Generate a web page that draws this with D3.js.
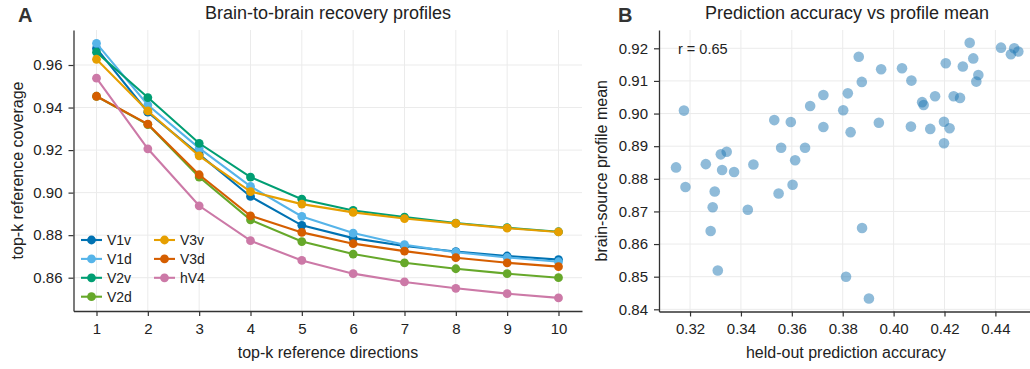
<!DOCTYPE html>
<html>
<head>
<meta charset="utf-8">
<script src="https://cdn.jsdelivr.net/npm/d3@7"></script>
<style>
  html, body { margin: 0; padding: 0; background: #fff; }
  svg { display: block; font-family: "Liberation Sans", Arial, Helvetica, sans-serif; }
</style>
</head>
<body>
<svg id="fig" width="1030" height="369"></svg>
<script>
// ---- Panel A: recovery profiles per visual area ----
const kValues = [1, 2, 3, 4, 5, 6, 7, 8, 9, 10];
const areaNames = ["V1v", "V1d", "V2v", "V2d", "V3v", "V3d", "hV4"];
const areaColors = ["#0072B2", "#56B4E9", "#009E73", "#66A82A", "#E69F00", "#D55E00", "#CC79A7"];

const coverageV1v = [0.9678, 0.9378, 0.9180, 0.8982, 0.8846, 0.8786, 0.8749, 0.8723, 0.8702, 0.8685];
const coverageV1d = [0.9702, 0.9412, 0.9209, 0.9029, 0.8888, 0.8810, 0.8755, 0.8720, 0.8695, 0.8675];
const coverageV2v = [0.9660, 0.9447, 0.9232, 0.9073, 0.8969, 0.8916, 0.8885, 0.8857, 0.8835, 0.8816];
const coverageV2d = [0.9453, 0.9320, 0.9073, 0.8872, 0.8770, 0.8711, 0.8670, 0.8642, 0.8619, 0.8600];
const coverageV3v = [0.9627, 0.9384, 0.9173, 0.9005, 0.8946, 0.8907, 0.8878, 0.8855, 0.8833, 0.8815];
const coverageV3d = [0.9453, 0.9322, 0.9084, 0.8891, 0.8813, 0.8760, 0.8725, 0.8694, 0.8670, 0.8652];
const coverageHV4 = [0.9538, 0.9206, 0.8938, 0.8774, 0.8681, 0.8619, 0.8580, 0.8550, 0.8525, 0.8505];
const coverageSeries = [coverageV1v, coverageV1d, coverageV2v, coverageV2d, coverageV3v, coverageV3d, coverageHV4];
const coverageTicks = [0.86, 0.88, 0.90, 0.92, 0.94, 0.96];

// ---- Panel B: held-out accuracy vs profile mean, one point per source ----
const heldOutAccuracy = [
  0.3176, 0.3145, 0.3262, 0.3321, 0.3344, 0.3326, 0.3373, 0.3449, 0.3531, 0.3596,
  0.3558, 0.3652, 0.3613, 0.3672, 0.3724, 0.3724, 0.3802, 0.3820, 0.3831, 0.3863,
  0.3875, 0.3951, 0.3942, 0.4033, 0.4070, 0.4068, 0.4112, 0.4118, 0.4144, 0.4163,
  0.4198, 0.4198, 0.4220, 0.4205, 0.4236, 0.4261, 0.4272, 0.4299, 0.4313, 0.4333,
  0.4325, 0.4422, 0.4474, 0.4461, 0.4490, 0.3182, 0.3297, 0.3289, 0.3427, 0.3281,
  0.3309, 0.3548, 0.3603, 0.3876, 0.3813, 0.3903
];
const profileMean = [
  0.9009, 0.8835, 0.8845, 0.8875, 0.8883, 0.8827, 0.8821, 0.8844, 0.8980, 0.8974,
  0.8895, 0.8895, 0.8857, 0.9023, 0.9057, 0.8959, 0.9010, 0.9062, 0.8943, 0.9174,
  0.9097, 0.9136, 0.8972, 0.9139, 0.9101, 0.8960, 0.9035, 0.9026, 0.8953, 0.9053,
  0.8975, 0.8909, 0.8955, 0.9154, 0.9053, 0.9048, 0.9144, 0.9217, 0.9169, 0.9118,
  0.9098, 0.9202, 0.9200, 0.9182, 0.9190, 0.8775, 0.8761, 0.8713, 0.8705, 0.8640,
  0.8519, 0.8755, 0.8782, 0.8649, 0.8500, 0.8433
];
const accuracyTicks = [0.32, 0.34, 0.36, 0.38, 0.40, 0.42, 0.44];
const meanTicks = [0.84, 0.85, 0.86, 0.87, 0.88, 0.89, 0.90, 0.91, 0.92];
const correlationLabel = "r = 0.65";

const svg = d3.select("#fig");
const gridColor = "#ebebeb";
const spineColor = "#333";

function styleAxis(g) {
  g.attr("font-family", null).attr("font-size", null);
  g.select(".domain").attr("stroke", spineColor).attr("stroke-width", 1.3);
  g.selectAll(".tick line").attr("stroke", spineColor).attr("stroke-width", 1.2);
  g.selectAll(".tick text").attr("font-size", 15).attr("fill", "#222");
}

// ================= Panel A =================
const A = { left: 73.5, right: 582, top: 30, bottom: 311 };
const xA = d3.scaleLinear().domain([0.552, 10.458]).range([A.left, A.right]);
const yA = d3.scaleLinear().domain([0.84434, 0.97646]).range([A.bottom, A.top]);

const gA = svg.append("g");
gA.append("g").selectAll("line").data(kValues).join("line")
  .attr("x1", d => xA(d)).attr("x2", d => xA(d))
  .attr("y1", A.top).attr("y2", A.bottom)
  .attr("stroke", gridColor).attr("stroke-width", 1);
gA.append("g").selectAll("line").data(coverageTicks).join("line")
  .attr("x1", A.left).attr("x2", A.right)
  .attr("y1", d => yA(d)).attr("y2", d => yA(d))
  .attr("stroke", gridColor).attr("stroke-width", 1);

gA.append("g").attr("transform", `translate(0,${A.bottom})`)
  .call(d3.axisBottom(xA).tickValues(kValues).tickFormat(d3.format("d")).tickSize(5).tickPadding(7).tickSizeOuter(0))
  .call(styleAxis);
gA.append("g").attr("transform", `translate(${A.left},0)`)
  .call(d3.axisLeft(yA).tickValues(coverageTicks).tickFormat(d3.format(".2f")).tickSize(5).tickPadding(6).tickSizeOuter(0))
  .call(styleAxis);

const lineA = d3.line().x((d, i) => xA(kValues[i])).y(d => yA(d));
coverageSeries.forEach((vals, s) => {
  const g = gA.append("g");
  g.append("path").datum(vals).attr("d", lineA)
    .attr("fill", "none").attr("stroke", areaColors[s]).attr("stroke-width", 2.1);
  g.selectAll("circle").data(vals).join("circle")
    .attr("cx", (d, i) => xA(kValues[i])).attr("cy", d => yA(d)).attr("r", 4.4)
    .attr("fill", areaColors[s]);
});

// legend, two columns
const legend = gA.append("g");
areaNames.forEach((name, i) => {
  const col = i < 4 ? 0 : 1;
  const row = i < 4 ? i : i - 4;
  const x0 = col === 0 ? 81 : 154;
  const y0 = 240 + row * 18.9;
  legend.append("line").attr("x1", x0).attr("x2", x0 + 21).attr("y1", y0).attr("y2", y0)
    .attr("stroke", areaColors[i]).attr("stroke-width", 2.1);
  legend.append("circle").attr("cx", x0 + 10.5).attr("cy", y0).attr("r", 4.4).attr("fill", areaColors[i]);
  legend.append("text").attr("x", x0 + 26).attr("y", y0 + 5)
    .attr("font-size", 14).attr("fill", "#222").text(name);
});

gA.append("text").attr("x", 328).attr("y", 19).attr("text-anchor", "middle")
  .attr("font-size", 18).attr("fill", "#222").text("Brain-to-brain recovery profiles");
gA.append("text").attr("x", 18).attr("y", 22).attr("font-size", 20).attr("font-weight", "bold")
  .attr("fill", "#333").text("A");
gA.append("text").attr("x", 328).attr("y", 358).attr("text-anchor", "middle")
  .attr("font-size", 16).attr("fill", "#222").text("top-k reference directions");
gA.append("text").attr("transform", `translate(23,${(A.top + A.bottom) / 2}) rotate(-90)`)
  .attr("text-anchor", "middle").attr("font-size", 16).attr("fill", "#222").text("top-k reference coverage");

// ================= Panel B =================
const B = { left: 659, right: 1030, top: 30, bottom: 311.5 };
const xB = d3.scaleLinear().domain([0.3078, 0.4536]).range([B.left, B.right]);
const yB = d3.scaleLinear().domain([0.83933, 0.92561]).range([B.bottom, B.top]);

const gB = svg.append("g");
gB.append("g").selectAll("line").data(accuracyTicks).join("line")
  .attr("x1", d => xB(d)).attr("x2", d => xB(d))
  .attr("y1", B.top).attr("y2", B.bottom)
  .attr("stroke", gridColor).attr("stroke-width", 1);
gB.append("g").selectAll("line").data(meanTicks).join("line")
  .attr("x1", B.left).attr("x2", B.right)
  .attr("y1", d => yB(d)).attr("y2", d => yB(d))
  .attr("stroke", gridColor).attr("stroke-width", 1);

gB.append("g").attr("transform", `translate(0,${B.bottom})`)
  .call(d3.axisBottom(xB).tickValues(accuracyTicks).tickFormat(d3.format(".2f")).tickSize(5).tickPadding(7).tickSizeOuter(0))
  .call(styleAxis);
gB.append("g").attr("transform", `translate(${B.left},0)`)
  .call(d3.axisLeft(yB).tickValues(meanTicks).tickFormat(d3.format(".2f")).tickSize(5).tickPadding(6).tickSizeOuter(0))
  .call(styleAxis);

gB.append("g").selectAll("circle").data(heldOutAccuracy).join("circle")
  .attr("cx", d => xB(d)).attr("cy", (d, i) => yB(profileMean[i])).attr("r", 5.3)
  .attr("fill", "#1f77b4").attr("fill-opacity", 0.5);

gB.append("text").attr("x", 678).attr("y", 54).attr("font-size", 14.5).attr("fill", "#222").text(correlationLabel);

gB.append("text").attr("x", 847).attr("y", 19).attr("text-anchor", "middle")
  .attr("font-size", 18).attr("fill", "#222").text("Prediction accuracy vs profile mean");
gB.append("text").attr("x", 618).attr("y", 22).attr("font-size", 20).attr("font-weight", "bold")
  .attr("fill", "#333").text("B");
gB.append("text").attr("x", 846).attr("y", 358).attr("text-anchor", "middle")
  .attr("font-size", 16).attr("fill", "#222").text("held-out prediction accuracy");
gB.append("text").attr("transform", `translate(607,${(B.top + B.bottom) / 2}) rotate(-90)`)
  .attr("text-anchor", "middle").attr("font-size", 16).attr("fill", "#222").text("brain-source profile mean");
</script>
</body>
</html>
